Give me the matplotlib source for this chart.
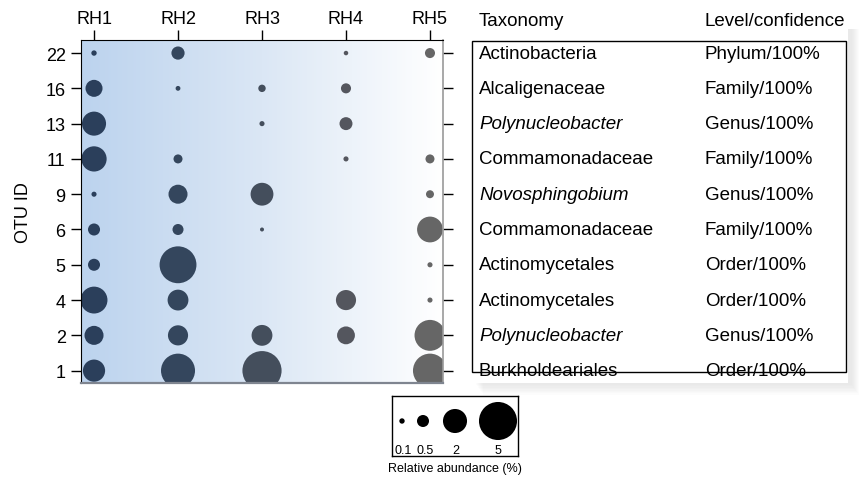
import numpy as np
import matplotlib.pyplot as plt
from matplotlib.patches import Rectangle
from matplotlib.colors import LinearSegmentedColormap
import matplotlib.transforms as mtransforms

plt.rcParams['font.family'] = ['Liberation Sans', 'DejaVu Sans']

samples = ['RH1', 'RH2', 'RH3', 'RH4', 'RH5']
otu_ids = ['22', '16', '13', '11', '9', '6', '5', '4', '2', '1']

# relative abundance (%) per OTU (rows, top to bottom) and sample (columns)
abundance = np.array([
    [0.10, 0.60, 0.00, 0.07, 0.35],
    [1.00, 0.08, 0.19, 0.35, 0.00],
    [2.00, 0.00, 0.09, 0.58, 0.00],
    [2.20, 0.28, 0.00, 0.09, 0.28],
    [0.09, 1.25, 1.80, 0.00, 0.22],
    [0.50, 0.42, 0.055, 0.00, 2.30],
    [0.50, 4.70, 0.00, 0.00, 0.09],
    [2.50, 1.50, 0.00, 1.40, 0.09],
    [1.25, 1.40, 1.50, 1.10, 3.30],
    [1.70, 4.00, 5.30, 0.00, 4.00],
])

taxonomy = ['Actinobacteria', 'Alcaligenaceae', 'Polynucleobacter', 'Commamonadaceae',
            'Novosphingobium', 'Commamonadaceae', 'Actinomycetales', 'Actinomycetales',
            'Polynucleobacter', 'Burkholdeariales']
italic = [False, False, True, False, True, False, False, False, True, False]
level = ['Phylum/100%', 'Family/100%', 'Genus/100%', 'Family/100%', 'Genus/100%',
         'Family/100%', 'Order/100%', 'Order/100%', 'Genus/100%', 'Order/100%']

legend_values = [0.1, 0.5, 2, 5]
legend_labels = ['0.1', '0.5', '2', '5']

col_colors = ['#2b3f5b', '#34465d', '#444e5c', '#54565e', '#666666']
size_k = 150  # points^2 per percent

W, H = 860, 481
fig = plt.figure(figsize=(8.6, 4.81), dpi=100)

def fx(px):
    return px / W

def fy(py):
    return 1 - py / H

# soft drop shadow of the table panel (bottom and right)
for i in range(8):
    fig.patches.append(Rectangle((fx(476 + i), fy(386 + i * 1.4)), fx(852 + i * 1.0) - fx(476 + i),
                                 fy(30) - fy(386 + i * 1.4), transform=fig.transFigure,
                                 facecolor='#9a9a9a', alpha=0.025, edgecolor='none', zorder=0))
fig.patches.append(Rectangle((fx(466), fy(384)), fx(848) - fx(466), fy(0) - fy(384),
                             transform=fig.transFigure, facecolor='white', edgecolor='none',
                             zorder=0.5))

ax = fig.add_axes([fx(81), fy(384), fx(443) - fx(81), fy(41) - fy(384)])
ax.set_xlim(-0.155, 4.155)
ax.set_ylim(9.35, -0.37)

cmap = LinearSegmentedColormap.from_list('bg', ['#bcd3ee', '#dbe7f5', '#ffffff'])
ax.imshow(np.linspace(0, 1, 256)[None, :], cmap=cmap, aspect='auto',
          extent=[-0.155, 4.155, 9.35, -0.37], zorder=0)

for j in range(len(samples)):
    vals = abundance[:, j]
    mask = vals > 0
    ax.scatter(np.full(mask.sum(), j), np.arange(len(otu_ids))[mask], s=vals[mask] * size_k,
               color=col_colors[j], edgecolors='none', zorder=2)

ax.set_xticks(range(len(samples)))
ax.set_xticklabels(samples, fontsize=13)
ax.set_yticks(range(len(otu_ids)))
ax.set_yticklabels(otu_ids, fontsize=13)
ax.tick_params(axis='x', top=True, bottom=False, labeltop=True, labelbottom=False,
               length=7, width=1, pad=2)
ax.tick_params(axis='y', left=True, right=True, labelleft=True, length=7, width=1, pad=4)
ax.set_ylabel('OTU ID', fontsize=13, labelpad=10)
ax.spines['left'].set_color('black')
ax.spines['top'].set_color('black')
ax.spines['bottom'].set_color('#7f8590')
ax.spines['right'].set_color('#9a9a9a')
ax.spines['bottom'].set_linewidth(1.6)
ax.spines['right'].set_linewidth(1.2)

# taxonomy table
trans = mtransforms.blended_transform_factory(fig.transFigure, ax.transData)
fig.text(fx(479), fy(21), 'Taxonomy', fontsize=13.5, va='center', ha='left')
fig.text(fx(705), fy(21), 'Level/confidence', fontsize=13.5, va='center', ha='left')
for i in range(len(taxonomy)):
    fig.text(fx(479), i, taxonomy[i], fontsize=13.5, va='center', ha='left', transform=trans,
             style='italic' if italic[i] else 'normal')
    fig.text(fx(705), i, level[i], fontsize=13.5, va='center', ha='left', transform=trans)
fig.patches.append(Rectangle((fx(472), fy(373)), fx(846) - fx(472), fy(42) - fy(373),
                             transform=fig.transFigure, facecolor='none', edgecolor='black',
                             linewidth=1, zorder=3))

# size legend
lax = fig.add_axes([fx(392), fy(457), fx(518) - fx(392), fy(397) - fy(457)])
lax.set_xlim(392, 518)
lax.set_ylim(457, 397)
leg_x = [402, 423, 455, 498]
lab_x = [403, 425, 456, 498]
lax.scatter(leg_x, [422] * len(legend_values), s=np.array(legend_values) * size_k,
            color='black', edgecolors='none')
for xx, lab in zip(lab_x, legend_labels):
    lax.text(xx, 451, lab, fontsize=9, ha='center', va='center')
lax.set_xticks([])
lax.set_yticks([])
for sp in lax.spines.values():
    sp.set_linewidth(1)
fig.text(fx(455), fy(469), 'Relative abundance (%)', fontsize=9, ha='center', va='center')

fig.savefig('out.png', dpi=100)
